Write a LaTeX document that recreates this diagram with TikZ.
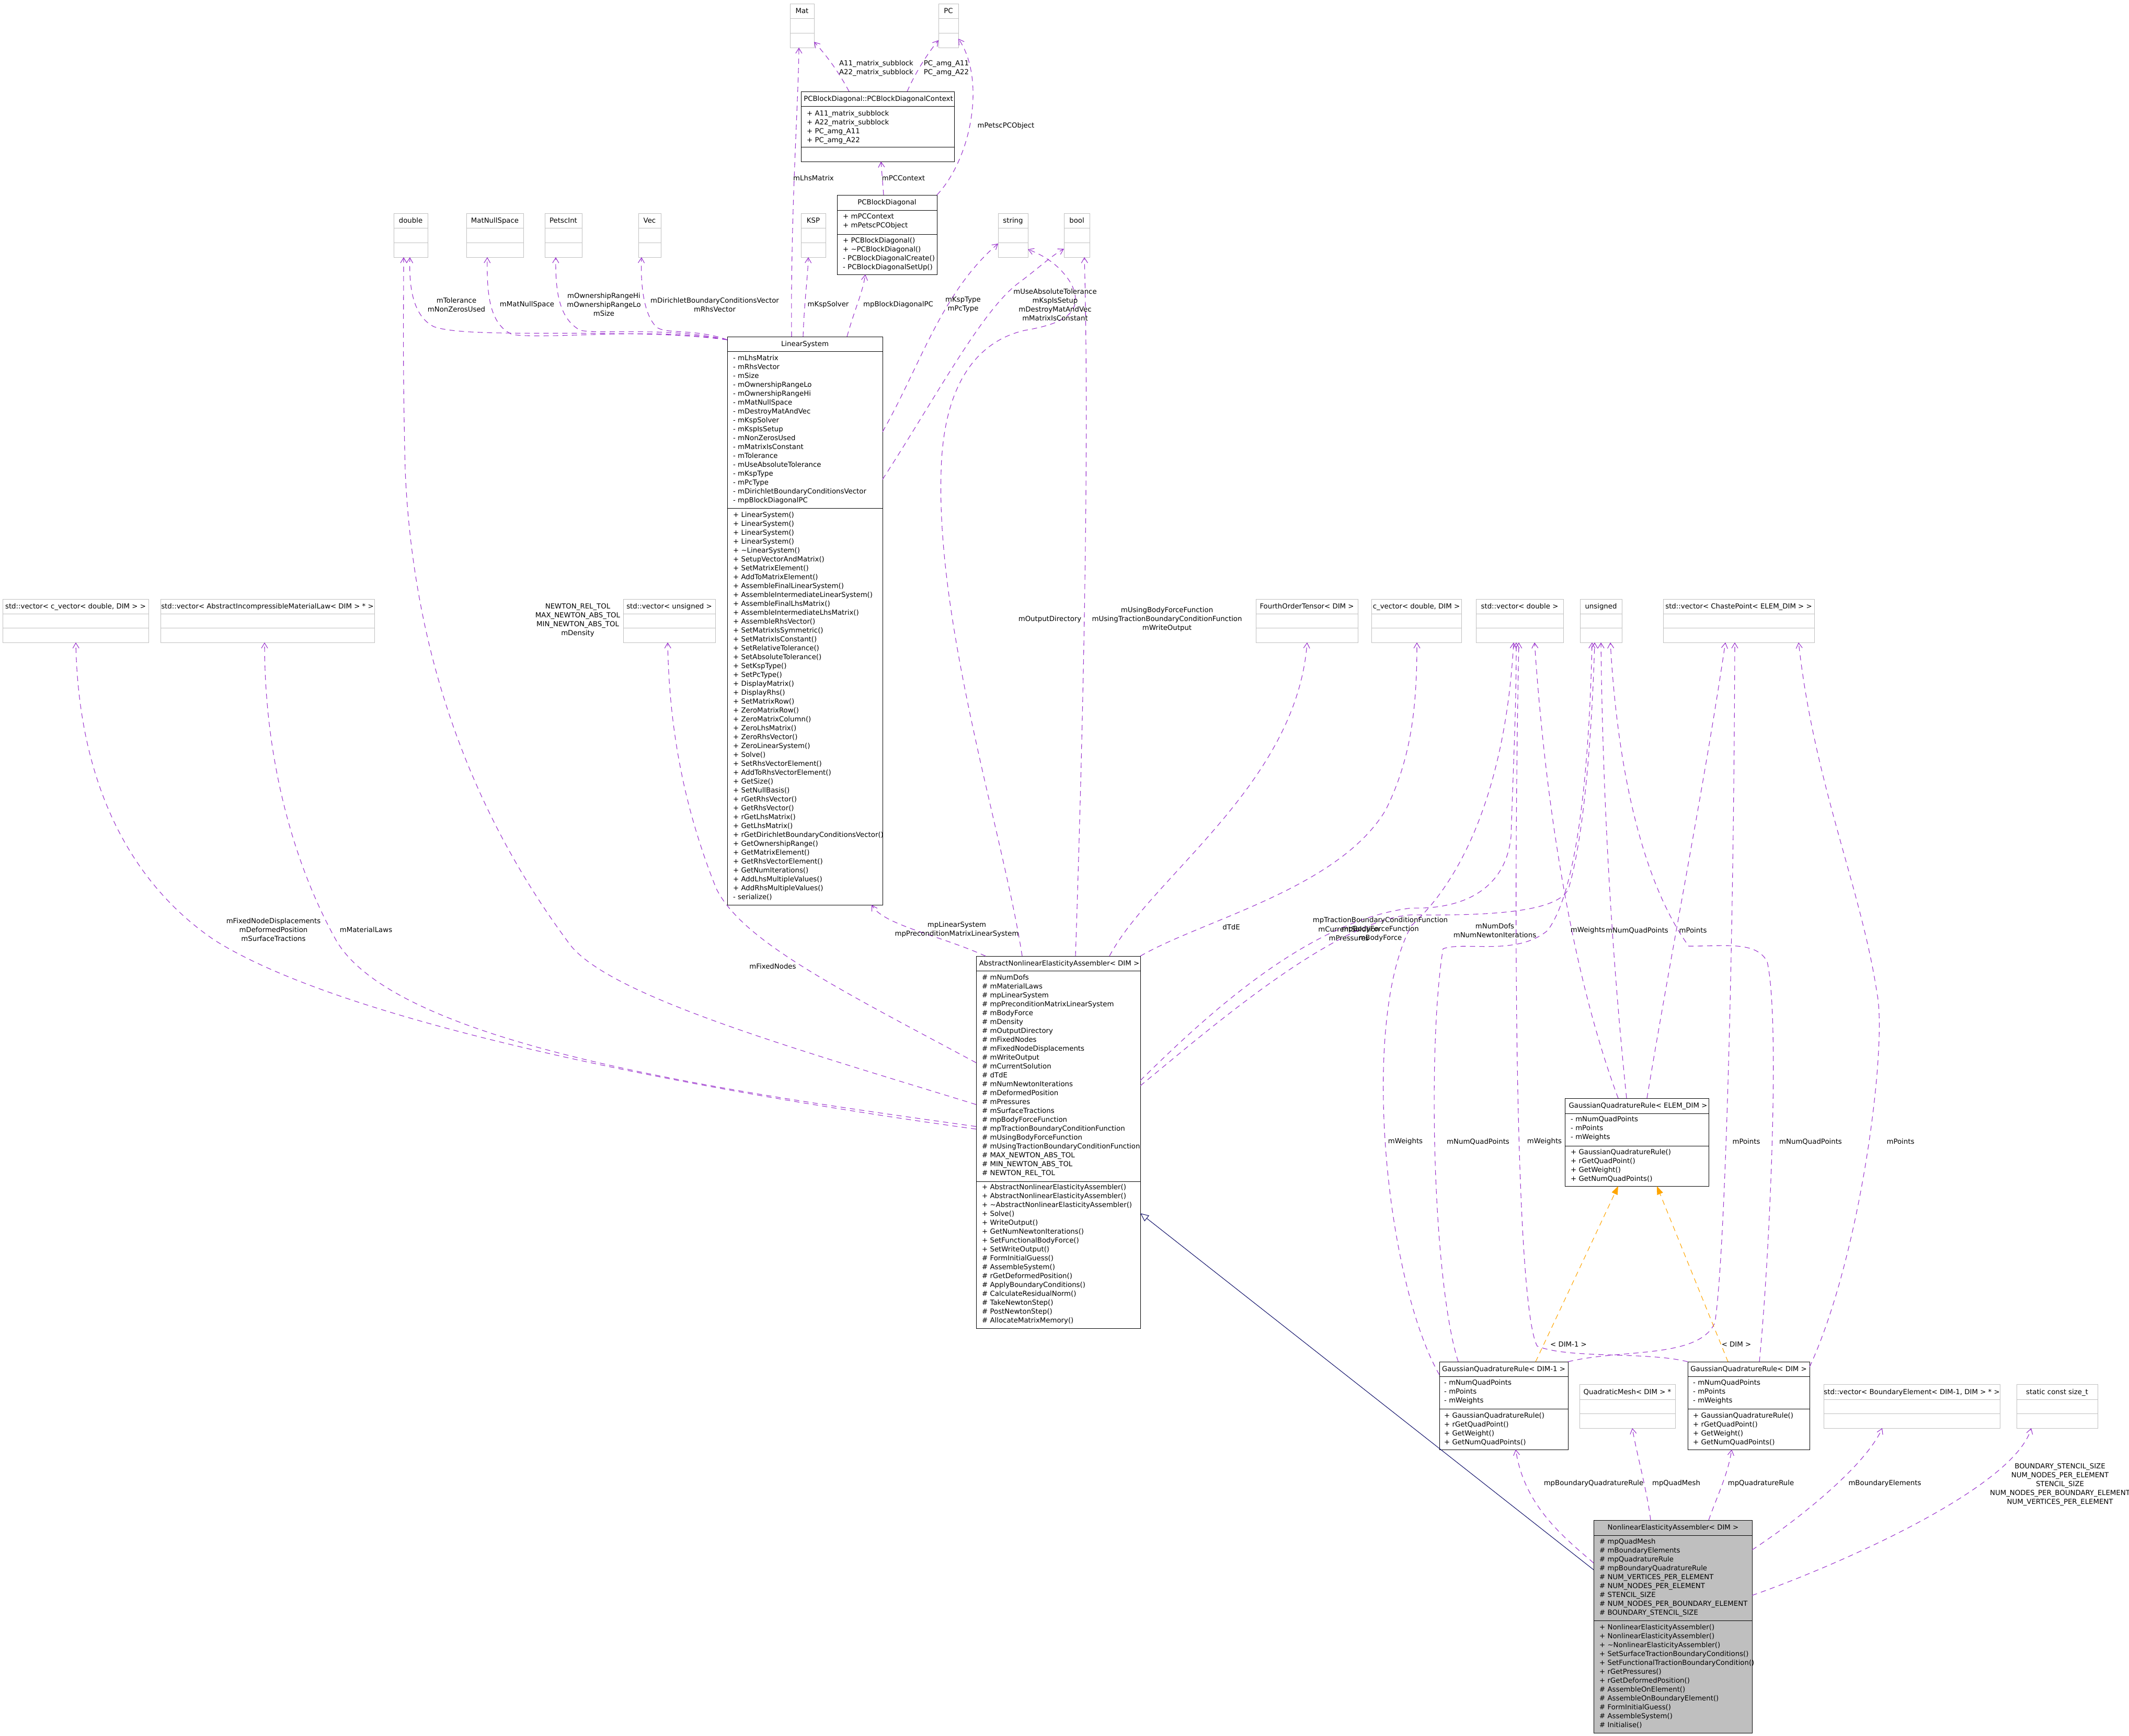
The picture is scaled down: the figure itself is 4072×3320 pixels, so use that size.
\documentclass[tikz,border=0pt]{standalone}
\usepackage{fontspec}
\setmainfont{DejaVu Sans}
\usetikzlibrary{arrows.meta}
\definecolor{usecol}{HTML}{9A32CD}
\definecolor{greyb}{HTML}{BFBFBF}
\definecolor{navyc}{HTML}{191970}
\definecolor{orng}{HTML}{FFA500}
\newcommand\fs{\fontsize{13.3}{17}\selectfont}
\newcommand\fl{\rule{0pt}{11pt}}
\newcommand\ubox[8]{%
  \node[#2, minimum width={(#5-#3)*1pt}, minimum height={(#6-#4)*1pt}] (#1) at (#3,#4) {};
  \draw[#2sep] (#3,#7) -- (#5,#7) (#3,#8) -- (#5,#8);}
\tikzset{
  cls/.style={draw=black, line width=0.9pt, fill=white, inner sep=0pt, outer sep=0pt, anchor=north west},
  clssep/.style={draw=black, line width=0.9pt},
  ext/.style={draw=greyb, line width=0.9pt, fill=white, inner sep=0pt, outer sep=0pt, anchor=north west},
  extsep/.style={draw=greyb, line width=0.9pt},
  gry/.style={draw=black, line width=0.9pt, fill=greyb, inner sep=0pt, outer sep=0pt, anchor=north west},
  grysep/.style={draw=black, line width=0.9pt},
  ttl/.style={anchor=base, inner sep=0pt, font=\fs},
  mem/.style={anchor=north west, align=left, inner sep=0pt, font=\fs},
  lbl/.style={align=center, inner sep=0pt, font=\fs},
  use/.style={draw=usecol, line width=1.1pt, dash pattern=on 10pt off 8pt, -{Straight Barb[length=10pt,width=12pt,line width=1.1pt]}},
  tmpl/.style={draw=orng, line width=1.1pt, dash pattern=on 10pt off 8pt, -{Triangle[length=16pt,width=12pt,fill=orng]}},
  inh/.style={draw=navyc, line width=1.1pt, -{Triangle[open,length=16pt,width=14pt,fill=white]}}
}
\begin{document}
\begin{tikzpicture}[x=1pt,y=-1pt]
\fill[white] (0,0) rectangle (4072,3320);
\useasboundingbox (0,0) rectangle (4072,3320);

% ---------- boxes ----------
\ubox{mat}{ext}{1511}{7}{1557}{91}{35}{63}
\node[ttl] (mat-t) at (1534,25.5) {Mat};
\ubox{pc}{ext}{1795}{7}{1833}{91}{35}{63}
\node[ttl] (pc-t) at (1814,25.5) {PC};
\ubox{ctx}{cls}{1532}{175}{1825}{309}{203}{281}
\node[ttl] (ctx-t) at (1680,193.5) {PCBlockDiagonal::PCBlockDiagonalContext};
\node[mem] (ctx-a) at (1543,210.5) {\fl + A11\_matrix\_subblock\\+ A22\_matrix\_subblock\\+ PC\_amg\_A11\\+ PC\_amg\_A22};
\ubox{pcbd}{cls}{1601}{373}{1792}{525}{402}{448}
\node[ttl] (pcbd-t) at (1696.5,391.5) {PCBlockDiagonal};
\node[mem] (pcbd-a) at (1612,407.5) {\fl + mPCContext\\+ mPetscPCObject};
\node[mem] (pcbd-m) at (1612,453.5) {\fl + PCBlockDiagonal()\\+ \textasciitilde PCBlockDiagonal()\\- PCBlockDiagonalCreate()\\- PCBlockDiagonalSetUp()};
\ubox{ksp}{ext}{1532}{408}{1579}{492}{436}{464}
\node[ttl] (ksp-t) at (1555.5,426.5) {KSP};
\ubox{dbl}{ext}{753}{408}{818}{492}{436}{464}
\node[ttl] (dbl-t) at (785.5,426.5) {double};
\ubox{mns}{ext}{892}{408}{1001}{492}{436}{464}
\node[ttl] (mns-t) at (946.5,426.5) {MatNullSpace};
\ubox{pint}{ext}{1042}{408}{1113}{492}{436}{464}
\node[ttl] (pint-t) at (1077.5,426.5) {PetscInt};
\ubox{vec}{ext}{1221}{408}{1264}{492}{436}{464}
\node[ttl] (vec-t) at (1242.5,426.5) {Vec};
\ubox{str}{ext}{1909}{408}{1966}{492}{436}{464}
\node[ttl] (str-t) at (1937.5,426.5) {string};
\ubox{bool}{ext}{2035}{408}{2084}{492}{436}{464}
\node[ttl] (bool-t) at (2059.5,426.5) {bool};

\ubox{ls}{cls}{1391}{644}{1688}{1731}{672}{972}
\node[ttl] (ls-t) at (1539.5,662.5) {LinearSystem};
\node[mem] (ls-a) at (1402,678.5) {\fl - mLhsMatrix\\- mRhsVector\\- mSize\\- mOwnershipRangeLo\\- mOwnershipRangeHi\\- mMatNullSpace\\- mDestroyMatAndVec\\- mKspSolver\\- mKspIsSetup\\- mNonZerosUsed\\- mMatrixIsConstant\\- mTolerance\\- mUseAbsoluteTolerance\\- mKspType\\- mPcType\\- mDirichletBoundaryConditionsVector\\- mpBlockDiagonalPC};
\node[mem] (ls-m) at (1402,978.5) {\fl + LinearSystem()\\+ LinearSystem()\\+ LinearSystem()\\+ LinearSystem()\\+ \textasciitilde LinearSystem()\\+ SetupVectorAndMatrix()\\+ SetMatrixElement()\\+ AddToMatrixElement()\\+ AssembleFinalLinearSystem()\\+ AssembleIntermediateLinearSystem()\\+ AssembleFinalLhsMatrix()\\+ AssembleIntermediateLhsMatrix()\\+ AssembleRhsVector()\\+ SetMatrixIsSymmetric()\\+ SetMatrixIsConstant()\\+ SetRelativeTolerance()\\+ SetAbsoluteTolerance()\\+ SetKspType()\\+ SetPcType()\\+ DisplayMatrix()\\+ DisplayRhs()\\+ SetMatrixRow()\\+ ZeroMatrixRow()\\+ ZeroMatrixColumn()\\+ ZeroLhsMatrix()\\+ ZeroRhsVector()\\+ ZeroLinearSystem()\\+ Solve()\\+ SetRhsVectorElement()\\+ AddToRhsVectorElement()\\+ GetSize()\\+ SetNullBasis()\\+ rGetRhsVector()\\+ GetRhsVector()\\+ rGetLhsMatrix()\\+ GetLhsMatrix()\\+ rGetDirichletBoundaryConditionsVector()\\+ GetOwnershipRange()\\+ GetMatrixElement()\\+ GetRhsVectorElement()\\+ GetNumIterations()\\+ AddLhsMultipleValues()\\+ AddRhsMultipleValues()\\- serialize()};

\ubox{cvv}{ext}{5}{1146}{284}{1229}{1174}{1201}
\node[ttl] (cvv-t) at (144.5,1164.5) {std::vector< c\_vector< double, DIM > >};
\ubox{mlaw}{ext}{307}{1146}{716}{1229}{1174}{1201}
\node[ttl] (mlaw-t) at (511.5,1164.5) {std::vector< AbstractIncompressibleMaterialLaw< DIM > * >};
\ubox{vuns}{ext}{1192}{1146}{1368}{1229}{1174}{1201}
\node[ttl] (vuns-t) at (1280,1164.5) {std::vector< unsigned >};
\ubox{fot}{ext}{2402}{1146}{2597}{1229}{1174}{1201}
\node[ttl] (fot-t) at (2499.5,1164.5) {FourthOrderTensor< DIM >};
\ubox{cvec}{ext}{2623}{1146}{2795}{1229}{1174}{1201}
\node[ttl] (cvec-t) at (2709,1164.5) {c\_vector< double, DIM >};
\ubox{vdbl}{ext}{2823}{1146}{2990}{1229}{1174}{1201}
\node[ttl] (vdbl-t) at (2906.5,1164.5) {std::vector< double >};
\ubox{uns}{ext}{3022}{1146}{3102}{1229}{1174}{1201}
\node[ttl] (uns-t) at (3062,1164.5) {unsigned};
\ubox{chp}{ext}{3181}{1146}{3470}{1229}{1174}{1201}
\node[ttl] (chp-t) at (3325.5,1164.5) {std::vector< ChastePoint< ELEM\_DIM > >};

\ubox{ane}{cls}{1867}{1829}{2181}{2541}{1857}{2260}
\node[ttl] (ane-t) at (2026,1847.5) {AbstractNonlinearElasticityAssembler< DIM >};
\node[mem] (ane-a) at (1878,1863.5) {\fl \# mNumDofs\\\# mMaterialLaws\\\# mpLinearSystem\\\# mpPreconditionMatrixLinearSystem\\\# mBodyForce\\\# mDensity\\\# mOutputDirectory\\\# mFixedNodes\\\# mFixedNodeDisplacements\\\# mWriteOutput\\\# mCurrentSolution\\\# dTdE\\\# mNumNewtonIterations\\\# mDeformedPosition\\\# mPressures\\\# mSurfaceTractions\\\# mpBodyForceFunction\\\# mpTractionBoundaryConditionFunction\\\# mUsingBodyForceFunction\\\# mUsingTractionBoundaryConditionFunction\\\# MAX\_NEWTON\_ABS\_TOL\\\# MIN\_NEWTON\_ABS\_TOL\\\# NEWTON\_REL\_TOL};
\node[mem] (ane-m) at (1878,2264.5) {\fl + AbstractNonlinearElasticityAssembler()\\+ AbstractNonlinearElasticityAssembler()\\+ \textasciitilde AbstractNonlinearElasticityAssembler()\\+ Solve()\\+ WriteOutput()\\+ GetNumNewtonIterations()\\+ SetFunctionalBodyForce()\\+ SetWriteOutput()\\\# FormInitialGuess()\\\# AssembleSystem()\\\# rGetDeformedPosition()\\\# ApplyBoundaryConditions()\\\# CalculateResidualNorm()\\\# TakeNewtonStep()\\\# PostNewtonStep()\\\# AllocateMatrixMemory()};

\ubox{gqe}{cls}{2993}{2101}{3268}{2269}{2130}{2192}
\node[ttl] (gqe-t) at (3133,2119.5) {GaussianQuadratureRule< ELEM\_DIM >};
\node[mem] (gqe-a) at (3004,2134.5) {\fl - mNumQuadPoints\\- mPoints\\- mWeights};
\node[mem] (gqe-m) at (3004,2197.5) {\fl + GaussianQuadratureRule()\\+ rGetQuadPoint()\\+ GetWeight()\\+ GetNumQuadPoints()};
\ubox{gq1}{cls}{2753}{2605}{2999}{2773}{2633}{2695}
\node[ttl] (gq1-t) at (2876,2623.5) {GaussianQuadratureRule< DIM-1 >};
\node[mem] (gq1-a) at (2762,2638.5) {\fl - mNumQuadPoints\\- mPoints\\- mWeights};
\node[mem] (gq1-m) at (2762,2701.5) {\fl + GaussianQuadratureRule()\\+ rGetQuadPoint()\\+ GetWeight()\\+ GetNumQuadPoints()};
\ubox{gqd}{cls}{3228}{2605}{3461}{2773}{2633}{2695}
\node[ttl] (gqd-t) at (3344.5,2623.5) {GaussianQuadratureRule< DIM >};
\node[mem] (gqd-a) at (3238,2638.5) {\fl - mNumQuadPoints\\- mPoints\\- mWeights};
\node[mem] (gqd-m) at (3238,2701.5) {\fl + GaussianQuadratureRule()\\+ rGetQuadPoint()\\+ GetWeight()\\+ GetNumQuadPoints()};
\ubox{qm}{ext}{3021}{2648}{3204}{2732}{2677}{2704}
\node[ttl] (qm-t) at (3112.5,2667) {QuadraticMesh< DIM > *};
\ubox{vbe}{ext}{3488}{2648}{3825}{2732}{2677}{2704}
\node[ttl] (vbe-t) at (3656.5,2667) {std::vector< BoundaryElement< DIM-1, DIM > * >};
\ubox{scs}{ext}{3857}{2648}{4012}{2732}{2677}{2704}
\node[ttl] (scs-t) at (3934.5,2667) {static const size\_t};

\ubox{nea}{gry}{3048}{2908}{3351}{3315}{2937}{3100}
\node[ttl] (nea-t) at (3200,2926.5) {NonlinearElasticityAssembler< DIM >};
\node[mem] (nea-a) at (3059,2942.5) {\fl \# mpQuadMesh\\\# mBoundaryElements\\\# mpQuadratureRule\\\# mpBoundaryQuadratureRule\\\# NUM\_VERTICES\_PER\_ELEMENT\\\# NUM\_NODES\_PER\_ELEMENT\\\# STENCIL\_SIZE\\\# NUM\_NODES\_PER\_BOUNDARY\_ELEMENT\\\# BOUNDARY\_STENCIL\_SIZE};
\node[mem] (nea-m) at (3059,3106.5) {\fl + NonlinearElasticityAssembler()\\+ NonlinearElasticityAssembler()\\+ \textasciitilde NonlinearElasticityAssembler()\\+ SetSurfaceTractionBoundaryConditions()\\+ SetFunctionalTractionBoundaryCondition()\\+ rGetPressures()\\+ rGetDeformedPosition()\\\# AssembleOnElement()\\\# AssembleOnBoundaryElement()\\\# FormInitialGuess()\\\# AssembleSystem()\\\# Initialise()};

% ---------- connectors ----------
% top cluster
\draw[use] (1624,0 |- ctx.north) .. controls (1600,130) and (1575,100) .. (mat.east |- 0,80);
\draw[use] (1735,0 |- ctx.north) .. controls (1755,130) and (1780,95) .. (pc.west |- 0,77);
\draw[use] (pcbd.north east) .. controls (1860,300) and (1885,150) .. (pc.east |- 0,74);
\draw[use] (1690,0 |- pcbd.north) -- (1685,0 |- ctx.south);
% LinearSystem usage
\draw[use] (1514,0 |- ls.north) .. controls (1512,400) and (1527,200) .. (1528,0 |- mat.south);
\draw[use] (1536,0 |- ls.north) .. controls (1538,580) and (1545,530) .. (1546,0 |- ksp.south);
\draw[use] (1620,0 |- ls.north) .. controls (1635,590) and (1650,560) .. (1655,0 |- pcbd.south);
\draw[use] (ls.east |- 0,826) .. controls (1760,700) and (1800,560) .. (str.west |- 0,466);
\draw[use] (ls.east |- 0,917) .. controls (1790,760) and (1880,590) .. (1950,540) .. controls (1990,510) and (2010,490) .. (bool.west |- 0,476);
\draw[use] (ls.west |- 0,650) .. controls (1200,625) and (900,650) .. (830,625) .. controls (790,605) and (782,550) .. (784,0 |- dbl.south);
\draw[use] (ls.west |- 0,650) .. controls (1250,625) and (1050,650) .. (980,640) .. controls (935,620) and (931,560) .. (932,0 |- mns.south);
\draw[use] (ls.west |- 0,650) .. controls (1280,625) and (1150,640) .. (1110,632) .. controls (1070,610) and (1062,560) .. (1063,0 |- pint.south);
\draw[use] (ls.west |- 0,650) .. controls (1330,628) and (1270,640) .. (1255,625) .. controls (1230,600) and (1225,540) .. (1227,0 |- vec.south);
% Abstract usage
\draw[use] (1885,0 |- ane.north) .. controls (1800,1790) and (1690,1770) .. (1667,0 |- ls.south);
\draw[use] (1955,0 |- ane.north) .. controls (1920,1600) and (1790,1200) .. (1800,900) .. controls (1805,720) and (1880,650) .. (1960,632) .. controls (2030,620) and (2075,600) .. (2050,545) .. controls (2030,510) and (2000,490) .. (str.east |- 0,477);
\draw[use] (2057,0 |- ane.north) .. controls (2068,1500) and (2085,900) .. (2074,0 |- bool.south);
\draw[use] (ane.west |- 0,2160) .. controls (1500,2110) and (700,1980) .. (411,1799) .. controls (250,1690) and (150,1500) .. (145,0 |- cvv.south);
\draw[use] (ane.west |- 0,2155) .. controls (1400,2090) and (760,2000) .. (643,1799) .. controls (560,1650) and (506,1450) .. (506,0 |- mlaw.south);
\draw[use] (ane.west |- 0,2113) .. controls (1500,2000) and (1150,1900) .. (1085,1800) .. controls (900,1550) and (790,1250) .. (775,900) .. controls (770,700) and (772,600) .. (772,0 |- dbl.south);
\draw[use] (ane.west |- 0,2033) .. controls (1600,1890) and (1420,1800) .. (1370,1700) .. controls (1310,1550) and (1280,1400) .. (1277,0 |- vuns.south);
\draw[use] (2122,0 |- ane.north) .. controls (2200,1680) and (2480,1500) .. (2500,0 |- fot.south);
\draw[use] (ane.north east) .. controls (2300,1760) and (2560,1700) .. (2650,1550) .. controls (2700,1450) and (2710,1350) .. (2710,0 |- cvec.south);
\draw[use] (ane.east |- 0,2067) .. controls (2300,1950) and (2500,1760) .. (2700,1737) .. controls (2800,1740) and (2880,1700) .. (2890,1600) .. controls (2895,1450) and (2900,1350) .. (2900,0 |- vdbl.south);
\draw[use] (ane.east |- 0,2077) .. controls (2300,1980) and (2550,1760) .. (2700,1750) .. controls (2850,1752) and (2980,1745) .. (3000,1700) .. controls (3030,1600) and (3045,1400) .. (3050,0 |- uns.south);
% Gaussian quadrature usage
\draw[use] (3095,0 |- gqe.north) .. controls (3020,1900) and (2960,1600) .. (2935,0 |- vdbl.south);
\draw[use] (3111,0 |- gqe.north) .. controls (3080,1800) and (3065,1500) .. (3062,0 |- uns.south);
\draw[use] (3150,0 |- gqe.north) .. controls (3200,1800) and (3260,1500) .. (3300,0 |- chp.south);
\draw[use] (gq1.west |- 0,2630) .. controls (2650,2450) and (2600,1950) .. (2700,1770) .. controls (2800,1680) and (2880,1500) .. (2895,0 |- vdbl.south);
\draw[use] (2789,0 |- gq1.north) .. controls (2740,2450) and (2730,2000) .. (2760,1815) .. controls (2800,1800) and (2900,1830) .. (2960,1780) .. controls (3020,1700) and (3040,1450) .. (3045,0 |- uns.south);
\draw[use] (gq1.north east) .. controls (3100,2580) and (3250,2600) .. (3280,2530) .. controls (3300,2400) and (3316,1800) .. (3318,0 |- chp.south);
\draw[use] (gqd.north west) .. controls (3150,2585) and (3000,2600) .. (2940,2575) .. controls (2900,2500) and (2893,1800) .. (2905,0 |- vdbl.south);
\draw[use] (3365,0 |- gqd.north) .. controls (3385,2400) and (3405,1950) .. (3380,1840) .. controls (3360,1800) and (3300,1810) .. (3230,1810) .. controls (3150,1700) and (3095,1500) .. (3080,0 |- uns.south);
\draw[use] (gqd.east |- 0,2615) .. controls (3560,2400) and (3610,2000) .. (3590,1900) .. controls (3560,1700) and (3470,1500) .. (3440,0 |- chp.south);
% template instances
\draw[tmpl] (2937,0 |- gq1.north) -- (3095,0 |- gqe.south);
\draw[tmpl] (3305,0 |- gqd.north) -- (3169,0 |- gqe.south);
% Nonlinear
\draw[inh] (nea.west |- 0,3003) -- (ane.east |- 0,2321);
\draw[use] (nea.west |- 0,2990) .. controls (2990,2940) and (2915,2880) .. (2899,0 |- gq1.south);
\draw[use] (3157,0 |- nea.north) .. controls (3150,2850) and (3130,2780) .. (3122,0 |- qm.south);
\draw[use] (3268,0 |- nea.north) .. controls (3285,2860) and (3305,2820) .. (3312,0 |- gqd.south);
\draw[use] (nea.east |- 0,2965) .. controls (3450,2900) and (3570,2800) .. (3600,0 |- vbe.south);
\draw[use] (nea.east |- 0,3052) .. controls (3500,3000) and (3850,2850) .. (3885,0 |- scs.south);

% ---------- edge labels ----------
\node[lbl] (l1) at (1676,131) {A11\_matrix\_subblock\\A22\_matrix\_subblock};
\node[lbl] (l2) at (1810,131) {PC\_amg\_A11\\PC\_amg\_A22};
\node[lbl] (l3) at (1924,241) {mPetscPCObject};
\node[lbl] (l4) at (1556,341) {mLhsMatrix};
\node[lbl] (l5) at (1728,341) {mPCContext};
\node[lbl] (l6) at (1584,583) {mKspSolver};
\node[lbl] (l7) at (1718,583) {mpBlockDiagonalPC};
\node[lbl] (l8) at (1842,583) {mKspType\\mPcType};
\node[lbl] (l9) at (2018,583) {mUseAbsoluteTolerance\\mKspIsSetup\\mDestroyMatAndVec\\mMatrixIsConstant};
\node[lbl] (l10) at (873,583) {mTolerance\\mNonZerosUsed};
\node[lbl] (l11) at (1008,583) {mMatNullSpace};
\node[lbl] (l12) at (1155,583) {mOwnershipRangeHi\\mOwnershipRangeLo\\mSize};
\node[lbl] (l13) at (1367,583) {mDirichletBoundaryConditionsVector\\mRhsVector};
\node[lbl] (l14) at (2008,1185) {mOutputDirectory};
\node[lbl] (l15) at (2232,1185) {mUsingBodyForceFunction\\mUsingTractionBoundaryConditionFunction\\mWriteOutput};
\node[lbl] (l16) at (1105,1186) {NEWTON\_REL\_TOL\\MAX\_NEWTON\_ABS\_TOL\\MIN\_NEWTON\_ABS\_TOL\\mDensity};
\node[lbl] (l17) at (523,1779) {mFixedNodeDisplacements\\mDeformedPosition\\mSurfaceTractions};
\node[lbl] (l18) at (700,1779) {mMaterialLaws};
\node[lbl] (l19) at (1478,1849) {mFixedNodes};
\node[lbl] (l20) at (1830,1778) {mpLinearSystem\\mpPreconditionMatrixLinearSystem};
\node[lbl] (l21) at (2355,1774) {dTdE};
\node[lbl] (l22) at (2640,1778) {mpTractionBoundaryConditionFunction\\mpBodyForceFunction\\mBodyForce};
\node[lbl] (l23) at (2580,1786) {mCurrentSolution\\mPressures};
\node[lbl] (l24) at (2859,1780) {mNumDofs\\mNumNewtonIterations};
\node[lbl] (l25) at (3037,1780) {mWeights};
\node[lbl] (l26) at (3131,1780) {mNumQuadPoints};
\node[lbl] (l27) at (3238,1780) {mPoints};
\node[lbl] (l28) at (2688,2184) {mWeights};
\node[lbl] (l29) at (2827,2184) {mNumQuadPoints};
\node[lbl] (l30) at (2954,2184) {mWeights};
\node[lbl] (l31) at (3340,2184) {mPoints};
\node[lbl] (l32) at (3463,2184) {mNumQuadPoints};
\node[lbl] (l33) at (3635,2184) {mPoints};
\node[lbl] (l34) at (3000,2572) {< DIM-1 >};
\node[lbl] (l35) at (3321,2572) {< DIM >};
\node[lbl] (l36) at (3048,2838) {mpBoundaryQuadratureRule};
\node[lbl] (l37) at (3206,2838) {mpQuadMesh};
\node[lbl] (l38) at (3368,2838) {mpQuadratureRule};
\node[lbl] (l39) at (3605,2838) {mBoundaryElements};
\node[lbl] (l40) at (3940,2840) {BOUNDARY\_STENCIL\_SIZE\\NUM\_NODES\_PER\_ELEMENT\\STENCIL\_SIZE\\NUM\_NODES\_PER\_BOUNDARY\_ELEMENT\\NUM\_VERTICES\_PER\_ELEMENT};
\end{tikzpicture}
\end{document}
